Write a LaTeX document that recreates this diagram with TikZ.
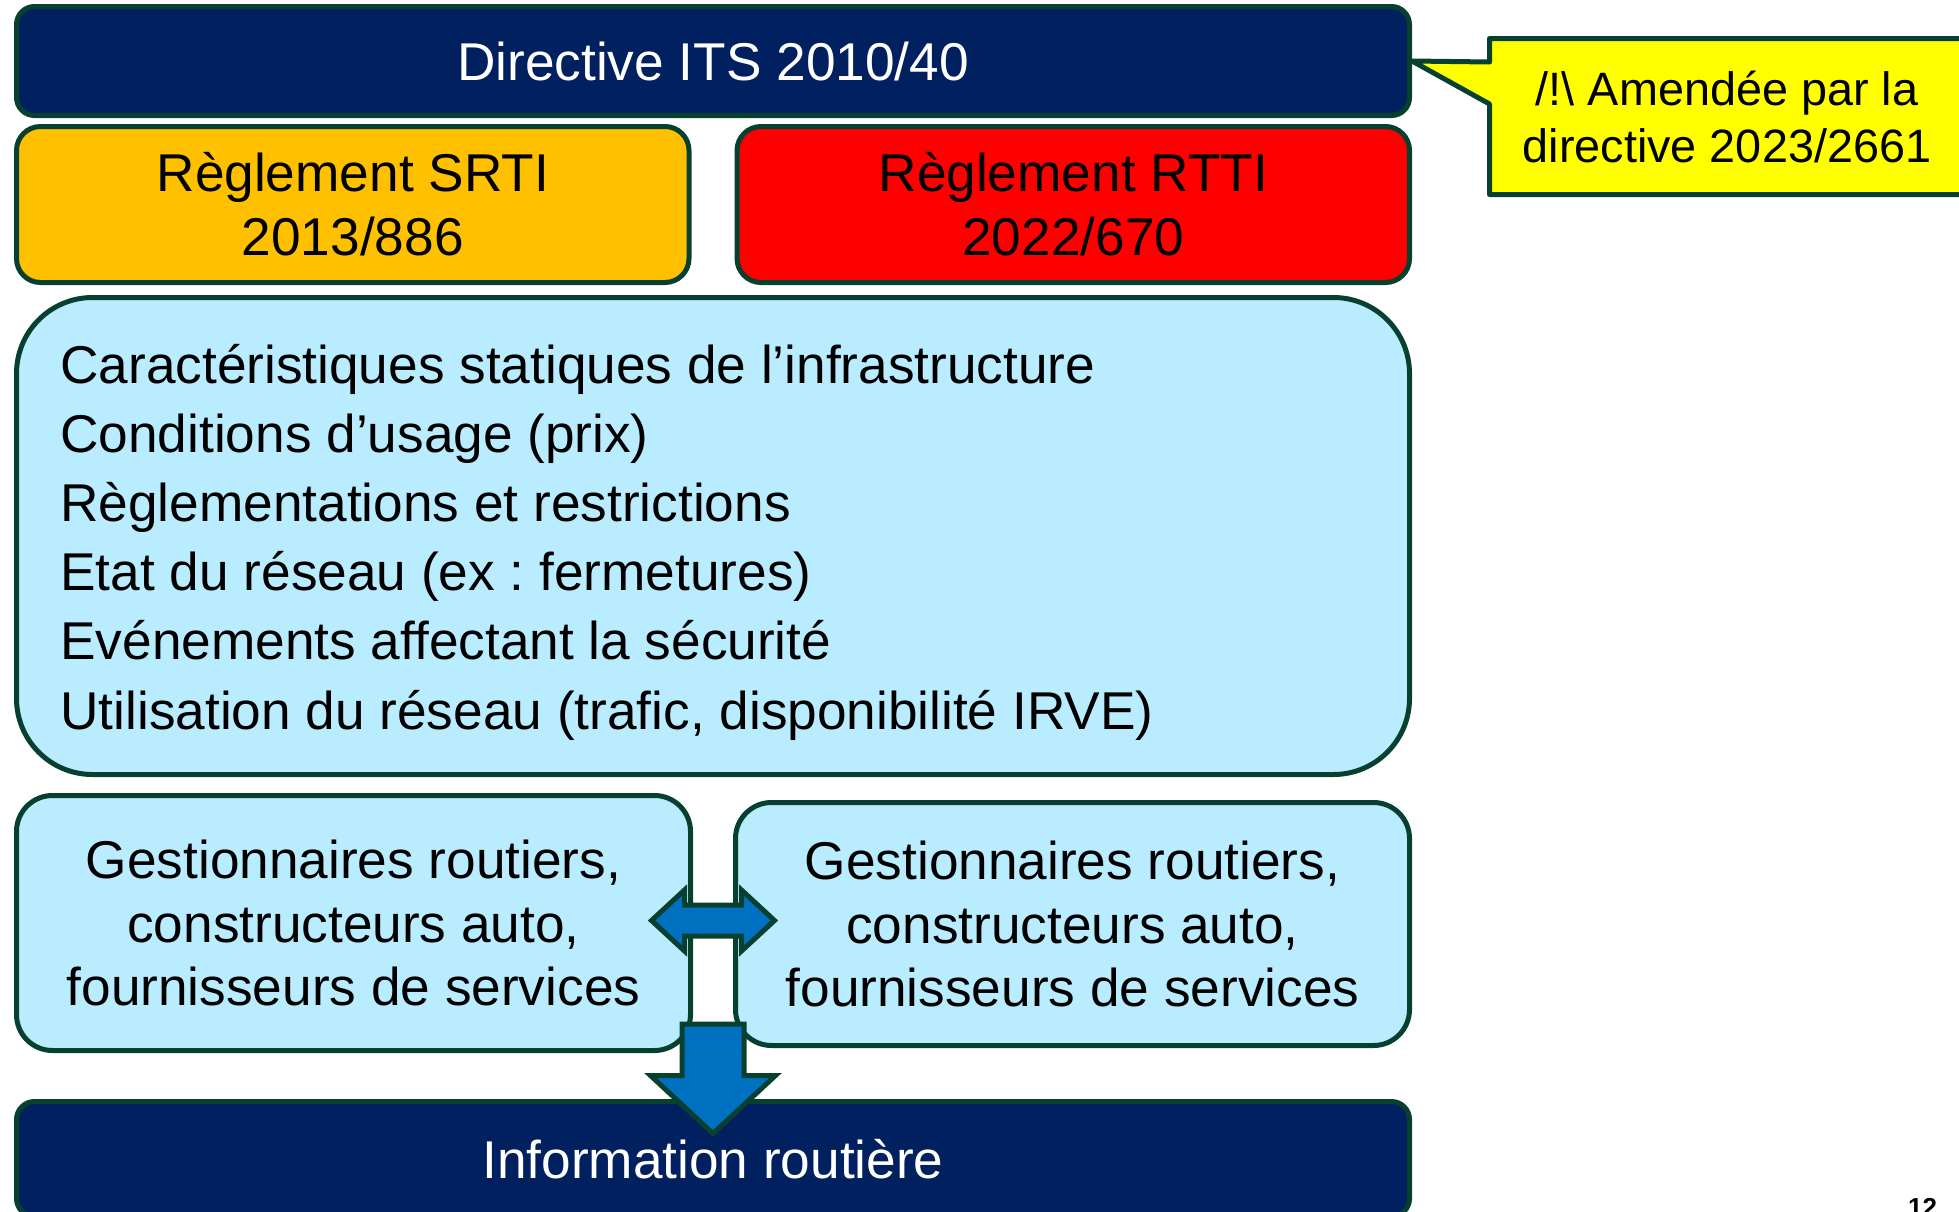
\documentclass[tikz,border=0pt]{standalone}
\usepackage{fontspec}
\setmainfont{Liberation Sans}
\frenchspacing
\usetikzlibrary{calc}
\definecolor{navy}{RGB}{0,32,96}
\definecolor{outl}{RGB}{8,64,48}
\definecolor{srtiorange}{RGB}{255,192,0}
\definecolor{rttired}{RGB}{255,0,0}
\definecolor{lightblue}{RGB}{185,236,255}
\definecolor{arrowblue}{RGB}{0,112,192}
\definecolor{noteyellow}{RGB}{255,255,0}

\begin{document}
\begin{tikzpicture}[x=0.5pt, y=-0.5pt,
    box/.style={draw=outl, line width=2.5pt, rounded corners=9pt, inner sep=0pt,
                align=center, font=\fontsize{26.6}{31.9}\selectfont},
    blockarrow/.style={draw=outl, line width=2.5pt, fill=arrowblue, line join=miter}]
\clip (0,0) rectangle (1959,1211);

\node[box, fill=navy, text=white, minimum width=696.5pt, minimum height=54.5pt]
    (directive) at (713,61) {Directive ITS 2010/40};
\node[box, fill=srtiorange, rounded corners=12pt, minimum width=336.25pt, minimum height=78pt]
    (srti) at (352.75,204.5) {Règlement SRTI\\2013/886};
\node[box, fill=rttired, rounded corners=12pt, minimum width=336.25pt, minimum height=78pt]
    (rtti) at (1073.25,204.5) {Règlement RTTI\\2022/670};
\node[box, fill=lightblue, rounded corners=38pt, minimum width=696.5pt, minimum height=238.5pt]
    (donnees) at (713,536) {};
\node[anchor=west, inner sep=0pt, align=left, font=\fontsize{26.6}{34.6}\selectfont]
    (liste) at (60,542) {Caractéristiques statiques de l’infrastructure\\
                         Conditions d’usage (prix)\\
                         Règlementations et restrictions\\
                         Etat du réseau (ex : fermetures)\\
                         Evénements affectant la sécurité\\
                         Utilisation du réseau (trafic, disponibilité IRVE)};
\node[box, fill=lightblue, rounded corners=18pt, minimum width=337pt, minimum height=127.5pt]
    (acteursg) at (353.5,923) {Gestionnaires routiers,\\constructeurs auto,\\fournisseurs de services};
\node[box, fill=lightblue, rounded corners=18pt, minimum width=337pt, minimum height=121.5pt]
    (acteursd) at (1072.5,924) {Gestionnaires routiers,\\constructeurs auto,\\fournisseurs de services};
\node[box, fill=navy, text=white, minimum width=696.5pt, minimum height=57.5pt]
    (info) at (713,1159) {Information routière};

% echanges entre acteurs
\coordinate (mid) at ($(acteursg.east)!.5!(acteursd.west)$);
\draw[blockarrow] (mid) ++(-61.5,-3) -- ++(33,-30.5) -- ++(0,15) -- ++(57,0) -- ++(0,-15)
    -- ++(33,30.5) -- ++(-33,30.5) -- ++(0,-15) -- ++(-57,0) -- ++(0,15) -- cycle;
\draw[blockarrow] (mid |- acteursd.south) ++(-31,-24) -- ++(62,0) -- ++(0,51.5) -- ++(31.5,0)
    -- ++(-62.5,58) -- ++(-62.5,-58) -- ++(31.5,0) -- cycle;

% bulle
\draw[draw=outl, line width=2.5pt, fill=noteyellow, line join=round]
    (1489.5,38.5) -- (1975,38.5) -- (1975,194.5) -- (1489.5,194.5) -- (1489.5,104)
    -- (directive.east) -- (1489.5,62) -- cycle;
\node[align=center, font=\fontsize{23.4}{28.75}\selectfont] (note) at (1727,117)
    {/!\textbackslash{} Amendée par la\\directive 2023/2661};

\node[anchor=base, font=\bfseries\fontsize{13}{13}\selectfont] (page) at (1922.5,1216.6) {12};
\end{tikzpicture}
\end{document}
